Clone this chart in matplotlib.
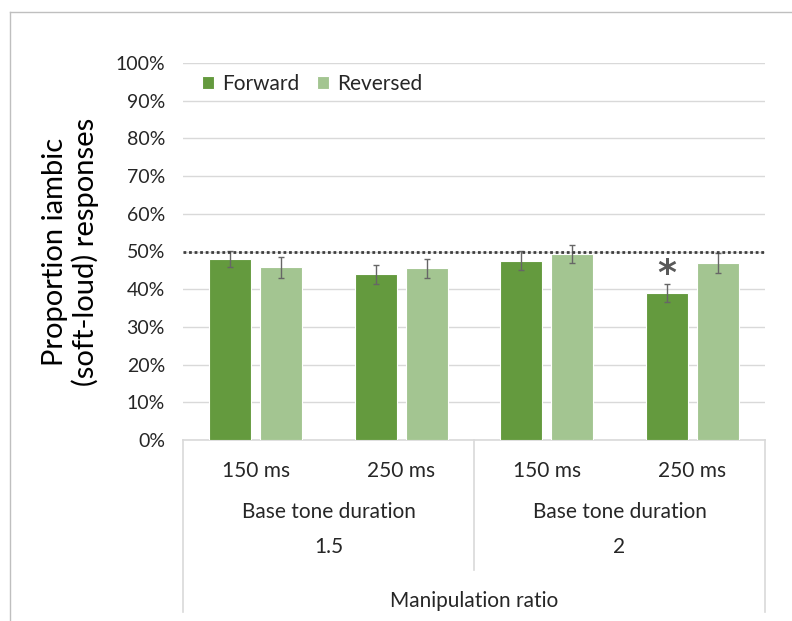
import matplotlib
matplotlib.use("Agg")
import matplotlib.pyplot as plt
from matplotlib.lines import Line2D
import numpy as np

plt.rcParams['font.family'] = ['Lato', 'DejaVu Sans']

# data
durations = ["150 ms", "250 ms", "150 ms", "250 ms"]
ratios = ["1.5", "2"]
forward = [48.0, 43.9, 47.6, 39.0]
forward_err = [2.2, 2.4, 2.5, 2.3]
reversed_ = [45.8, 45.5, 49.3, 47.0]
reversed_err = [2.7, 2.6, 2.3, 2.6]
signif = [False, False, False, True]

c_fwd = "#649A3E"
c_rev = "#A3C591"
c_line = "#D9D9D9"
c_text = "#262626"

fig = plt.figure(figsize=(7.92, 6.21), dpi=100)
ax = fig.add_axes([183 / 792, 1 - 440 / 621, (765 - 183) / 792, (440 - 63) / 621])

x = np.arange(len(durations))
w = 0.29
off = 0.175
ax.bar(x - off, forward, w, color=c_fwd, edgecolor="white", linewidth=0.8,
       label="Forward", zorder=3)
ax.bar(x + off, reversed_, w, color=c_rev, edgecolor="white", linewidth=0.8,
       label="Reversed", zorder=3)
ax.errorbar(x - off, forward, yerr=forward_err, fmt="none", ecolor="#666666",
            elinewidth=1, capsize=2.5, capthick=1, zorder=4)
ax.errorbar(x + off, reversed_, yerr=reversed_err, fmt="none", ecolor="#666666",
            elinewidth=1, capsize=2.5, capthick=1, zorder=4)

# significance markers
for i, s in enumerate(signif):
    if s:
        ax.text(i - off, forward[i] + forward_err[i] + 2.8, "*", ha="center",
                va="center", fontsize=26, color="#595959", zorder=5,
                family="DejaVu Sans", fontweight="bold")

# chance line
ax.axhline(50, color="#404040", linestyle=(0, (1, 1)), linewidth=2, zorder=5)

ax.set_xlim(-0.5, 3.5)
ax.set_ylim(0, 100)
ax.set_yticks(np.arange(0, 101, 10))
ax.set_yticklabels([f"{v}%" for v in range(0, 101, 10)], fontsize=14, color=c_text)
ax.tick_params(axis="y", length=0, pad=13)
ax.set_xticks([])
ax.grid(axis="y", color=c_line, linewidth=1, zorder=0)
for sp in ax.spines.values():
    sp.set_visible(False)

ax.set_ylabel("Proportion iambic\n(soft-loud) responses", fontsize=21,
              color="black", linespacing=1.15)
ax.yaxis.set_label_coords(-0.145, 0.5)

# multi-level category axis drawn as a table below the plot
tr = ax.transAxes
lines = [
    ([0, 1], [0, 0]),
    ([0, 0], [0, -0.455]),
    ([1, 1], [0, -0.455]),
    ([0.5, 0.5], [0, -0.345]),
]
for xs, ys in lines:
    ax.add_line(Line2D(xs, ys, transform=tr, color=c_line, linewidth=1.2,
                       clip_on=False))

for i, lab in enumerate(durations):
    ax.text((i + 0.5) / len(durations), -0.082, lab, transform=tr, ha="center",
            va="center", fontsize=15, color=c_text)
for j, lab in enumerate(ratios):
    ax.text(0.25 + 0.5 * j, -0.191, "Base tone duration", transform=tr,
            ha="center", va="center", fontsize=15, color=c_text)
    ax.text(0.25 + 0.5 * j, -0.284, lab, transform=tr, ha="center",
            va="center", fontsize=15, color=c_text)
ax.text(0.5, -0.427, "Manipulation ratio", transform=tr, ha="center",
        va="center", fontsize=15, color=c_text)

ax.legend(loc="upper left", bbox_to_anchor=(0.0, 1.02), ncol=2, frameon=False,
          fontsize=15, handlelength=0.6, handleheight=0.6, handletextpad=0.4,
          columnspacing=0.8, labelcolor=c_text)

# outer chart frame (top and left edges visible in crop)
fig.add_artist(Line2D([10 / 792, 1], [1 - 12 / 621, 1 - 12 / 621],
                      transform=fig.transFigure, color="#BFBFBF", linewidth=1))
fig.add_artist(Line2D([10 / 792, 10 / 792], [0, 1 - 12 / 621],
                      transform=fig.transFigure, color="#BFBFBF", linewidth=1))

fig.savefig("out.png", dpi=100)
